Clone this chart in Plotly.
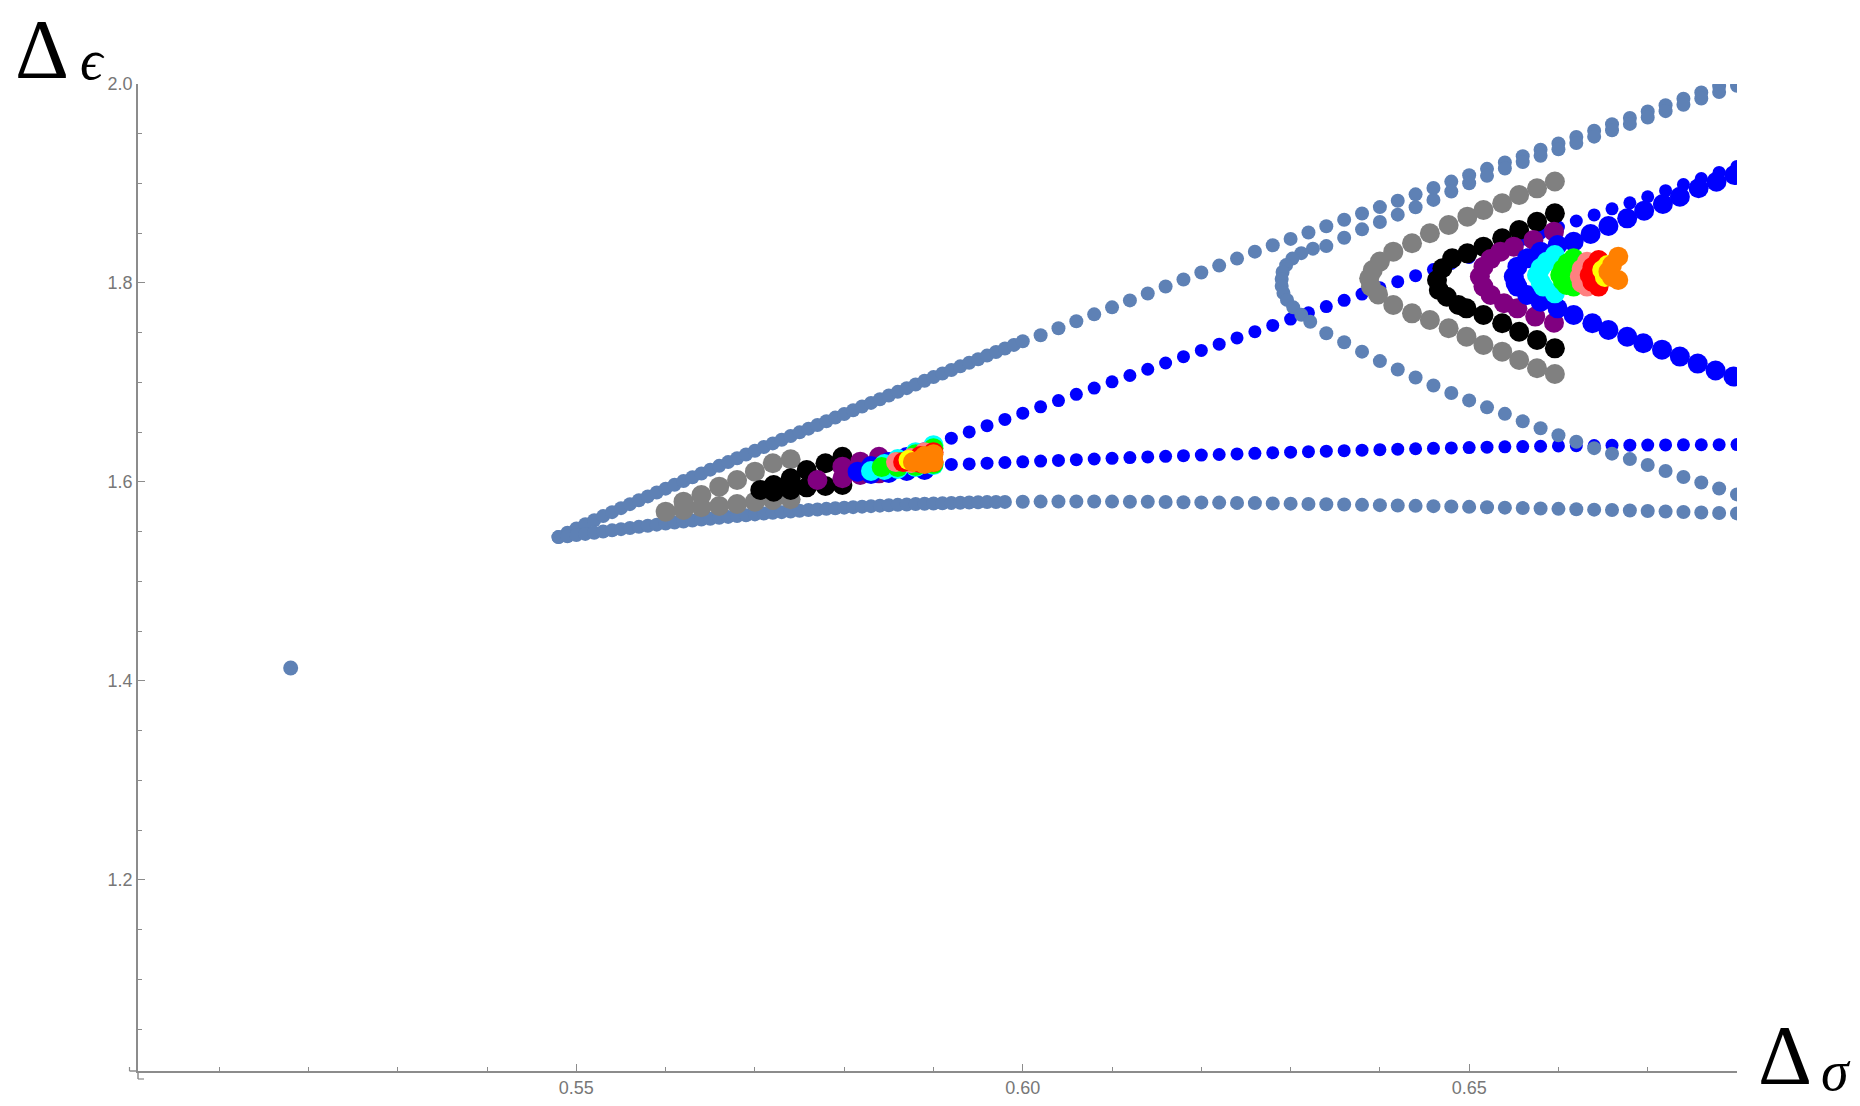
import plotly.graph_objects as go

# ---------------- tick data ----------------
x_ticks = [0.55, 0.60, 0.65]
x_tick_text = ["0.55", "0.60", "0.65"]
x_minor = [0.51, 0.52, 0.53, 0.54, 0.56, 0.57, 0.58, 0.59, 0.61, 0.62, 0.63, 0.64, 0.66, 0.67, 0.68]
y_ticks = [1.2, 1.4, 1.6, 1.8, 2.0]
y_tick_text = ["1.2", "1.4", "1.6", "1.8", "2.0"]
y_minor = [1.05, 1.1, 1.15, 1.25, 1.3, 1.35, 1.45, 1.5, 1.55, 1.65, 1.7, 1.75, 1.85, 1.9, 1.95]

# ---------------- steel blue region ----------------
steel_up_dense_x = [0.548, 0.549, 0.550, 0.551, 0.552, 0.553, 0.554, 0.555, 0.556, 0.557, 0.558, 0.559,
                    0.560, 0.561, 0.562, 0.563, 0.564, 0.565, 0.566, 0.567, 0.568, 0.569, 0.570, 0.571,
                    0.572, 0.573, 0.574, 0.575, 0.576, 0.577, 0.578, 0.579, 0.580, 0.581, 0.582, 0.583,
                    0.584, 0.585, 0.586, 0.587, 0.588, 0.589, 0.590, 0.591, 0.592, 0.593, 0.594, 0.595,
                    0.596, 0.597, 0.598, 0.599, 0.600]
steel_up_dense_y = [1.5446, 1.5490, 1.5533, 1.5575, 1.5616, 1.5657, 1.5697, 1.5737, 1.5777, 1.5816, 1.5855, 1.5894,
                    1.5933, 1.5972, 1.6010, 1.6048, 1.6086, 1.6124, 1.6162, 1.6200, 1.6238, 1.6276, 1.6314, 1.6351,
                    1.6388, 1.6425, 1.6462, 1.6499, 1.6536, 1.6573, 1.6610, 1.6647, 1.6684, 1.6721, 1.6758, 1.6795,
                    1.6832, 1.6869, 1.6906, 1.6943, 1.6980, 1.7017, 1.7054, 1.7090, 1.7126, 1.7162, 1.7198, 1.7234,
                    1.7270, 1.7306, 1.7342, 1.7378, 1.7414]

steel_lo_dense_x = [0.548, 0.549, 0.550, 0.551, 0.552, 0.553, 0.554, 0.555, 0.556, 0.557, 0.558, 0.559,
                    0.560, 0.561, 0.562, 0.563, 0.564, 0.565, 0.566, 0.567, 0.568, 0.569, 0.570, 0.571,
                    0.572, 0.573, 0.574, 0.575, 0.576, 0.577, 0.578, 0.579, 0.580, 0.581, 0.582, 0.583,
                    0.584, 0.585, 0.586, 0.587, 0.588, 0.589, 0.590, 0.591, 0.592, 0.593, 0.594, 0.595,
                    0.596, 0.597, 0.598]
steel_lo_dense_y = [1.5446, 1.5455, 1.5466, 1.5478, 1.5490, 1.5502, 1.5514, 1.5526, 1.5538, 1.5549, 1.5560, 1.5571,
                    1.5582, 1.5592, 1.5602, 1.5612, 1.5622, 1.5631, 1.5640, 1.5649, 1.5658, 1.5666, 1.5674, 1.5682,
                    1.5690, 1.5697, 1.5704, 1.5711, 1.5718, 1.5724, 1.5730, 1.5736, 1.5742, 1.5747, 1.5752, 1.5757,
                    1.5762, 1.5766, 1.5770, 1.5774, 1.5778, 1.5781, 1.5784, 1.5787, 1.5790, 1.5792, 1.5794, 1.5796,
                    1.5798, 1.5799, 1.5800]

steel_up_sparse_x = [0.602, 0.604, 0.606, 0.608, 0.610, 0.612, 0.614, 0.616, 0.618, 0.620, 0.622, 0.624,
                     0.626, 0.628, 0.630, 0.632, 0.634, 0.636, 0.638, 0.640, 0.642, 0.644, 0.646, 0.648,
                     0.650, 0.652, 0.654, 0.656, 0.658, 0.660, 0.662, 0.664, 0.666, 0.668, 0.670, 0.672,
                     0.674, 0.676, 0.678, 0.680]
steel_up_sparse_y = [1.7475, 1.7545, 1.7615, 1.7685, 1.7755, 1.7825, 1.7895, 1.7965, 1.8035, 1.8105, 1.8175, 1.8245,
                     1.8315, 1.8379, 1.8443, 1.8507, 1.8571, 1.8635, 1.8699, 1.8763, 1.8827, 1.8891, 1.8955, 1.9019,
                     1.9083, 1.9147, 1.9211, 1.9275, 1.9339, 1.9403, 1.9467, 1.9531, 1.9595, 1.9659, 1.9723, 1.9787,
                     1.9851, 1.9915, 1.9979, 2.0043]

steel_lo_sparse_x = [0.600, 0.602, 0.604, 0.606, 0.608, 0.610, 0.612, 0.614, 0.616, 0.618, 0.620, 0.622,
                     0.624, 0.626, 0.628, 0.630, 0.632, 0.634, 0.636, 0.638, 0.640, 0.642, 0.644, 0.646,
                     0.648, 0.650, 0.652, 0.654, 0.656, 0.658, 0.660, 0.662, 0.664, 0.666, 0.668, 0.670,
                     0.672, 0.674, 0.676, 0.678, 0.680]
steel_lo_sparse_y = [1.5802, 1.5803, 1.5804, 1.5804, 1.5804, 1.5803, 1.5802, 1.5801, 1.5799, 1.5797, 1.5795, 1.5793,
                     1.5790, 1.5788, 1.5785, 1.5782, 1.5779, 1.5776, 1.5773, 1.5770, 1.5767, 1.5764, 1.5760, 1.5757,
                     1.5753, 1.5750, 1.5746, 1.5742, 1.5738, 1.5734, 1.5730, 1.5726, 1.5722, 1.5718, 1.5714, 1.5709,
                     1.5704, 1.5699, 1.5694, 1.5689, 1.5684]

steel_c_x = [0.680, 0.678, 0.676, 0.674, 0.672, 0.670, 0.668, 0.666, 0.664, 0.662, 0.660, 0.658,
             0.656, 0.654, 0.652, 0.650, 0.648, 0.646, 0.644, 0.642, 0.640, 0.638, 0.636, 0.634,
             0.6325, 0.6312, 0.6302, 0.6295, 0.6291, 0.6290, 0.6290, 0.6292, 0.6296, 0.6303, 0.6312, 0.6322,
             0.634, 0.636, 0.638, 0.640, 0.642, 0.644, 0.646, 0.648, 0.650, 0.652, 0.654, 0.656,
             0.658, 0.660, 0.662, 0.664, 0.666, 0.668, 0.670, 0.672, 0.674, 0.676, 0.678, 0.680]
steel_c_y = [1.9983, 1.9919, 1.9855, 1.9791, 1.9727, 1.9663, 1.9599, 1.9535, 1.9471, 1.9407, 1.9343, 1.9279,
             1.9215, 1.9151, 1.9077, 1.9003, 1.8919, 1.8835, 1.8761, 1.8687, 1.8613, 1.8539, 1.8455, 1.8371,
             1.8345, 1.8300, 1.8245, 1.8180, 1.8110, 1.8040, 1.7970, 1.7900, 1.7830, 1.7755, 1.7680, 1.7610,
             1.7495, 1.7405, 1.7310, 1.7215, 1.7130, 1.7050, 1.6970, 1.6895, 1.6820, 1.6750, 1.6685, 1.6610,
             1.6540, 1.6470, 1.6405, 1.6340, 1.6285, 1.6230, 1.6170, 1.6110, 1.6050, 1.5995, 1.5935, 1.5875]

isolated_x = [0.518]
isolated_y = [1.413]

# ---------------- small blue ----------------
blue_up_x = [0.584, 0.586, 0.588, 0.590, 0.592, 0.594, 0.596, 0.598, 0.600, 0.602, 0.604, 0.606,
             0.608, 0.610, 0.612, 0.614, 0.616, 0.618, 0.620, 0.622, 0.624, 0.626, 0.628, 0.630,
             0.632, 0.634, 0.636, 0.638, 0.640, 0.642, 0.644, 0.646, 0.648, 0.650, 0.652, 0.654,
             0.656, 0.658, 0.660, 0.662, 0.664, 0.666, 0.668, 0.670, 0.672, 0.674, 0.676, 0.678, 0.680]
blue_up_y = [1.6188, 1.6251, 1.6314, 1.6377, 1.6440, 1.6503, 1.6566, 1.6629, 1.6692, 1.6755, 1.6818, 1.6881,
             1.6944, 1.7007, 1.7070, 1.7133, 1.7196, 1.7259, 1.7322, 1.7385, 1.7448, 1.7511, 1.7574, 1.7637,
             1.7700, 1.7763, 1.7826, 1.7889, 1.7952, 1.8013, 1.8074, 1.8135, 1.8196, 1.8257, 1.8318, 1.8379,
             1.8440, 1.8501, 1.8562, 1.8623, 1.8684, 1.8745, 1.8806, 1.8867, 1.8928, 1.8989, 1.9050, 1.9111, 1.9172]
blue_lo_x = [0.584, 0.586, 0.588, 0.590, 0.592, 0.594, 0.596, 0.598, 0.600, 0.602, 0.604, 0.606,
             0.608, 0.610, 0.612, 0.614, 0.616, 0.618, 0.620, 0.622, 0.624, 0.626, 0.628, 0.630,
             0.632, 0.634, 0.636, 0.638, 0.640, 0.642, 0.644, 0.646, 0.648, 0.650, 0.652, 0.654,
             0.656, 0.658, 0.660, 0.662, 0.664, 0.666, 0.668, 0.670, 0.672, 0.674, 0.676, 0.678, 0.680]
blue_lo_y = [1.6145, 1.6155, 1.6163, 1.6170, 1.6176, 1.6182, 1.6189, 1.6196, 1.6203, 1.6210, 1.6217, 1.6224,
             1.6231, 1.6238, 1.6245, 1.6252, 1.6258, 1.6264, 1.6270, 1.6276, 1.6282, 1.6288, 1.6294, 1.6300,
             1.6305, 1.6310, 1.6315, 1.6320, 1.6325, 1.6330, 1.6334, 1.6338, 1.6342, 1.6346, 1.6350, 1.6353,
             1.6356, 1.6359, 1.6362, 1.6364, 1.6366, 1.6368, 1.6370, 1.6371, 1.6372, 1.6373, 1.6374, 1.6375, 1.6376]

# ---------------- large coloured markers ----------------
gray_x = [0.560, 0.562, 0.564, 0.566, 0.568, 0.570, 0.572, 0.574, 0.562, 0.564, 0.566, 0.568, 0.570, 0.572, 0.574,
          0.6415, 0.6436, 0.6456, 0.6477, 0.6498, 0.6516, 0.6537, 0.6556, 0.6576, 0.6596,
          0.6400, 0.6392, 0.6388, 0.6390, 0.6398,
          0.6415, 0.6436, 0.6456, 0.6477, 0.6497, 0.6516, 0.6537, 0.6556, 0.6576, 0.6596]
gray_y = [1.5702, 1.5802, 1.5869, 1.5953, 1.6020, 1.6104, 1.6188, 1.6228, 1.5719, 1.5746, 1.5759, 1.5779, 1.5802, 1.5819, 1.5826,
          1.8315, 1.8399, 1.8500, 1.8583, 1.8667, 1.8734, 1.8801, 1.8884, 1.8951, 1.9020,
          1.8215, 1.8130, 1.8047, 1.7965, 1.7885,
          1.7779, 1.7695, 1.7628, 1.7545, 1.7460, 1.7377, 1.7310, 1.7226, 1.7143, 1.7085]

black_x = [0.5706, 0.5721, 0.5740, 0.5758, 0.5779, 0.5798, 0.5721, 0.5740, 0.5758, 0.5779, 0.5798,
           0.6498, 0.6481, 0.6470, 0.6464, 0.6466, 0.6475, 0.6488, 0.6497,
           0.6516, 0.6537, 0.6556, 0.6576, 0.6596,
           0.6516, 0.6537, 0.6556, 0.6576, 0.6596]
black_y = [1.5920, 1.5970, 1.6037, 1.6120, 1.6188, 1.6254, 1.5902, 1.5920, 1.5946, 1.5960, 1.5970,
           1.8298, 1.8248, 1.8148, 1.8030, 1.7930, 1.7862, 1.7779, 1.7745,
           1.8365, 1.8449, 1.8533, 1.8616, 1.8700,
           1.7678, 1.7595, 1.7510, 1.7427, 1.7343]

purple_x = [0.5770, 0.5798, 0.5818, 0.5839, 0.5798, 0.5818, 0.5839,
            0.6512, 0.6516, 0.6524, 0.6535, 0.6550, 0.6572, 0.6595,
            0.6516, 0.6524, 0.6539, 0.6554, 0.6574, 0.6595]
purple_y = [1.6020, 1.6154, 1.6204, 1.6254, 1.6037, 1.6070, 1.6087,
            1.8064, 1.8164, 1.8240, 1.8315, 1.8365, 1.8432, 1.8516,
            1.7964, 1.7880, 1.7796, 1.7745, 1.7662, 1.7600]

bigblue_x = [0.5815, 0.5830, 0.5830, 0.5850, 0.5850, 0.5870, 0.5870, 0.5890, 0.5890,
             0.6552, 0.6550, 0.6554, 0.6565, 0.6580, 0.6599, 0.6617, 0.6636, 0.6656, 0.6677, 0.6696,
             0.6717, 0.6736, 0.6757, 0.6777, 0.6797,
             0.6554, 0.6565, 0.6580, 0.6599, 0.6617, 0.6638, 0.6656, 0.6677, 0.6695, 0.6716, 0.6736,
             0.6756, 0.6776, 0.6796]
bigblue_y = [1.6104, 1.6080, 1.6160, 1.6090, 1.6200, 1.6110, 1.6250, 1.6120, 1.6300,
             1.8000, 1.8064, 1.8164, 1.8248, 1.8315, 1.8382, 1.8415, 1.8492, 1.8573, 1.8650, 1.8727,
             1.8794, 1.8867, 1.8952, 1.9018, 1.9085,
             1.7964, 1.7880, 1.7812, 1.7745, 1.7678, 1.7595, 1.7528, 1.7460, 1.7394, 1.7330, 1.7260,
             1.7190, 1.7120, 1.7060]

cyan_x = [0.5830, 0.5845, 0.5845, 0.5860, 0.5860, 0.5880, 0.5880, 0.5900, 0.5900,
          0.6576, 0.6580, 0.6587, 0.6596, 0.6580, 0.6583, 0.6596]
cyan_y = [1.6110, 1.6120, 1.6180, 1.6130, 1.6230, 1.6150, 1.6300, 1.6170, 1.6370,
          1.8080, 1.8150, 1.8214, 1.8281, 1.8010, 1.7964, 1.7896]

green_x = [0.5842, 0.5860, 0.5860, 0.5880, 0.5880, 0.5900, 0.5900,
           0.6602, 0.6605, 0.6610, 0.6617, 0.6605, 0.6609, 0.6617]
green_y = [1.6150, 1.6150, 1.6200, 1.6160, 1.6280, 1.6180, 1.6340,
           1.8080, 1.8140, 1.8198, 1.8248, 1.8020, 1.7980, 1.7964]

pink_x = [0.5858, 0.5875, 0.5875, 0.5890, 0.5890,
          0.6624, 0.6626, 0.6632, 0.6626, 0.6632]
pink_y = [1.6200, 1.6190, 1.6240, 1.6200, 1.6300,
          1.8064, 1.8140, 1.8214, 1.8000, 1.7964]

red_x = [0.5866, 0.5885, 0.5885, 0.5900, 0.5900,
         0.6635, 0.6638, 0.6645, 0.6638, 0.6645]
red_y = [1.6200, 1.6190, 1.6260, 1.6200, 1.6300,
         1.8080, 1.8160, 1.8231, 1.8010, 1.7964]

yellow_x = [0.5872, 0.5890, 0.6649, 0.6652, 0.6655]
yellow_y = [1.6220, 1.6240, 1.8131, 1.8060, 1.8180]

orange_x = [0.5877, 0.5885, 0.5890, 0.5900, 0.5900, 0.5890,
            0.6656, 0.6660, 0.6667, 0.6660, 0.6667]
orange_y = [1.6200, 1.6220, 1.6260, 1.6280, 1.6200, 1.6180,
            1.8114, 1.8181, 1.8265, 1.8060, 1.8030]

# ---------------- figure ----------------
STEEL = "#5E81B5"
fig = go.Figure()


def add(xs, ys, color, size):
    fig.add_trace(go.Scatter(x=xs, y=ys, mode="markers",
                             marker=dict(color=color, size=size, line=dict(width=0)),
                             hoverinfo="skip", showlegend=False))


add(steel_up_dense_x + steel_lo_dense_x + steel_up_sparse_x + steel_lo_sparse_x,
    steel_up_dense_y + steel_lo_dense_y + steel_up_sparse_y + steel_lo_sparse_y, STEEL, 14)
add(isolated_x, isolated_y, STEEL, 15)
add(blue_up_x + blue_lo_x, blue_up_y + blue_lo_y, "#0000FF", 13)
add(steel_c_x, steel_c_y, STEEL, 14)
add(gray_x, gray_y, "#808080", 20)
add(black_x, black_y, "#000000", 20)
add(purple_x, purple_y, "#800080", 20)
add(bigblue_x, bigblue_y, "#0000FF", 20)
add(cyan_x, cyan_y, "#00FFFF", 20)
add(green_x, green_y, "#00FF00", 20)
add(pink_x, pink_y, "#FF8080", 20)
add(red_x, red_y, "#FF0000", 20)
add(yellow_x, yellow_y, "#FFFF00", 20)
add(orange_x, orange_y, "#FF8000", 20)

# plot area in pixels
L, R, T, B = 138, 1737, 84, 1071
W, H = 1860, 1106


def px(X):
    return (X - L) / (R - L)


def py(Y):
    return (B - Y) / (B - T)


AX = "#8c8c8c"
LBL = "#777777"
TICKFONT = dict(family="Liberation Sans, Arial, sans-serif", size=18, color=LBL)
fig.update_layout(
    width=W, height=H, autosize=False,
    margin=dict(l=L, r=W - R, t=T, b=H - B, pad=0, autoexpand=False),
    paper_bgcolor="white", plot_bgcolor="white",
    xaxis=dict(range=[0.5009, 0.680], showgrid=False, zeroline=False, automargin=False,
               showline=True, linecolor=AX, linewidth=1.5,
               tickmode="array", tickvals=x_ticks, ticktext=x_tick_text,
               ticks="inside", ticklen=7, tickwidth=1.2, tickcolor=AX,
               tickfont=TICKFONT,
               minor=dict(tickvals=x_minor, ticks="inside", ticklen=4, tickwidth=1.2, tickcolor=AX)),
    yaxis=dict(range=[1.008, 2.0], showgrid=False, zeroline=False, automargin=False,
               showline=True, linecolor=AX, linewidth=1.5,
               tickmode="array", tickvals=y_ticks, ticktext=y_tick_text,
               ticks="inside", ticklen=7, tickwidth=1.2, tickcolor=AX,
               tickfont=TICKFONT,
               minor=dict(tickvals=y_minor, ticks="inside", ticklen=4, tickwidth=1.2, tickcolor=AX)),
)

SERIF = "Liberation Serif, DejaVu Serif, serif"
# axis symbols (kept fully inside the page)
fig.add_annotation(text="Δ", xref="paper", yref="paper", x=px(42), y=py(1),
                   xanchor="center", yanchor="top", showarrow=False,
                   font=dict(family=SERIF, size=84, color="black"))
fig.add_annotation(text="<i>ϵ</i>", xref="paper", yref="paper", x=px(92), y=py(60),
                   xanchor="center", yanchor="middle", showarrow=False,
                   font=dict(family=SERIF, size=56, color="black"))
fig.add_annotation(text="Δ", xref="paper", yref="paper", x=px(1785), y=py(1104),
                   xanchor="center", yanchor="bottom", showarrow=False,
                   font=dict(family=SERIF, size=84, color="black"))
fig.add_annotation(text="<i>σ</i>", xref="paper", yref="paper", x=px(1836), y=py(1104),
                   xanchor="center", yanchor="bottom", showarrow=False,
                   font=dict(family=SERIF, size=56, color="black"))

# small axis stubs below/left of origin (0.50 and 1.0 ticks)
fig.add_shape(type="line", xref="paper", yref="paper", x0=px(129.5), x1=px(138), y0=py(1071), y1=py(1071),
              line=dict(color=AX, width=1.5))
fig.add_shape(type="line", xref="paper", yref="paper", x0=px(129.5), x1=px(129.5), y0=py(1071), y1=py(1067),
              line=dict(color=AX, width=1.2))
fig.add_shape(type="line", xref="paper", yref="paper", x0=px(138), x1=px(138), y0=py(1071), y1=py(1079),
              line=dict(color=AX, width=1.5))
fig.add_shape(type="line", xref="paper", yref="paper", x0=px(138), x1=px(144), y0=py(1079), y1=py(1079),
              line=dict(color=AX, width=1.2))

fig.write_html("out.html")
